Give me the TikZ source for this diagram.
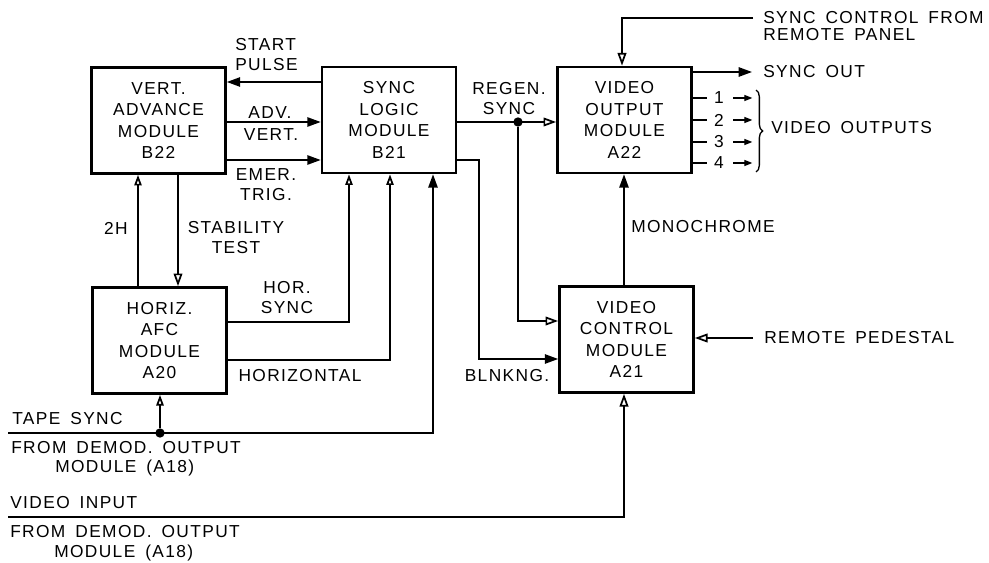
\documentclass[tikz,border=0pt]{standalone}
\usepackage{fontspec}
\setmainfont{Liberation Sans}[LetterSpace=8,WordSpace=1.6]
\usetikzlibrary{arrows.meta,decorations.pathreplacing}
\newcommand{\modschrift}{\fontsize{13}{16.2}\selectfont}
\newcommand{\lbl}{\fontsize{13}{15}\selectfont}
\tikzset{modul/.style={draw,line width=2pt,minimum width=100.5pt,minimum height=79.5pt,
    inner sep=0,align=center,font=\modschrift},
  leitung/.style={line width=1.3pt},
  pfeil/.style={leitung,-{Triangle[length=10pt,width=7pt]}},
  hohlpfeil/.style={leitung,-{Triangle[open,length=9.5pt,width=6.5pt]}},
  kleinhohl/.style={leitung,-{Triangle[open,length=8pt,width=5.5pt]}},
  kleinpfeil/.style={line width=0.9pt,-{Triangle[length=6pt,width=4.5pt]}},
  knoten/.style={circle,fill,inner sep=0,minimum size=7pt},
  beschr/.style={inner sep=0,font=\lbl}}
\begin{document}
\begin{tikzpicture}[x=0.75pt,y=-0.75pt]
\useasboundingbox (0,0) rectangle (989,563);
% Module
\node[modul] (b22) at (158.5,120.5) {VERT.\\ADVANCE\\MODULE\\B22};
\node[modul] (b21) at (389,120) {SYNC\\LOGIC\\MODULE\\B21};
\node[modul] (a22) at (624.5,120) {VIDEO\\OUTPUT\\MODULE\\A22};
\node[modul] (a20) at (159.5,340.5) {HORIZ.\\AFC\\MODULE\\A20};
\node[modul] (a21) at (626.5,339.5) {VIDEO\\CONTROL\\MODULE\\A21};
% freie Enden
\coordinate (tapein) at (8,433);
\coordinate (vidin) at (8,517);
\coordinate (syncctl) at (753,18);
\coordinate (syncout) at (752,72);
\coordinate (pedin) at (753,338);
% B22 <-> B21
\draw[pfeil] (b21.west |- 0,82) -- (b22.east |- 0,82);
\draw[pfeil] (b22.east |- 0,122) -- (b21.west |- 0,122);
\draw[pfeil] (b22.east |- 0,160) -- (b21.west |- 0,160);
\node[beschr,anchor=west,align=left] (lstart) at (235,55) {START\\PULSE};
\node[beschr] (ladv) at (270,113) {ADV.};
\node[beschr] (lvert) at (271,135) {VERT.};
\node[beschr,align=center] (lemer) at (266,185) {EMER.\\TRIG.};
% B22 <-> A20
\draw[kleinhohl] (a20.north -| 138,0) -- (b22.south -| 138,0);
\draw[hohlpfeil] (b22.south -| 178,0) -- (a20.north -| 178,0);
\node[beschr] (l2h) at (116,228) {2H};
\node[beschr,align=center] (lstab) at (236,238) {STABILITY\\TEST};
% A20 -> B21
\draw[kleinhohl] (a20.east |- 0,322) -| (b21.south -| 349,0);
\draw[kleinhohl] (a20.east |- 0,360) -| (b21.south -| 390,0);
\node[beschr,align=center] (lhor) at (287,297.5) {HOR.\\SYNC};
\node[beschr] (lhoriz) at (300,376) {HORIZONTAL};
% Tape sync
\draw[pfeil] (tapein) -| (b21.south -| 433,0);
\node[knoten] (knotA) at (160,433) {};
\draw[kleinhohl] (knotA) -- (a20.south -| knotA);
\node[beschr,anchor=west] (ltape) at (12,419) {TAPE SYNC};
\node[beschr,anchor=west] (lfrom1) at (11,448) {FROM DEMOD. OUTPUT};
\node[beschr,anchor=west] (lmod1) at (55,468) {MODULE (A18)};
% B21 -> A22, A21
\draw[hohlpfeil] (b21.east |- 0,122) -- (a22.west |- 0,122);
\node[knoten] (knotB) at (518,122) {};
\draw[hohlpfeil] (knotB) |- (a21.west |- 0,321);
\draw[pfeil] (b21.east |- 0,160) -- (479,160) |- (a21.west |- 0,359);
\node[beschr,align=center] (lregen) at (509,98.5) {REGEN.\\SYNC};
\node[beschr] (lblnk) at (507,376) {BLNKNG.};
% A21 -> A22
\draw[pfeil] (a21.north -| 624,0) -- (a22.south -| 624,0);
\node[beschr,anchor=west] (lmono) at (631,227) {MONOCHROME};
% rechts
\draw[hohlpfeil] (syncctl) -| (a22.north -| 622,0);
\node[beschr,anchor=west] (lsyncc1) at (763,18) {SYNC CONTROL FROM};
\node[beschr,anchor=west] (lsyncc2) at (763,35) {REMOTE PANEL};
\draw[pfeil] (a22.east |- syncout) -- (syncout);
\node[beschr,anchor=west] (lsyncout) at (763,72) {SYNC OUT};
\foreach \n/\y in {1/98,2/120,3/142,4/163}{
  \draw[leitung] (a22.east |- 0,\y) -- ++(14,0);
  \node[beschr] (nr\n) at (719,\y) {\n};
  \draw[kleinpfeil] ([xshift=10.5pt]nr\n.center) -- ([xshift=25pt]nr\n.center);
}
\draw[line width=1pt,decorate,decoration={brace,amplitude=5pt}] (756,90) -- (756,172);
\node[beschr,anchor=west] (lvidout) at (771,128) {VIDEO OUTPUTS};
\draw[hohlpfeil] (pedin) -- (a21.east |- pedin);
\node[beschr,anchor=west] (lped) at (764,338) {REMOTE PEDESTAL};
% Video input
\draw[hohlpfeil] (vidin) -| (a21.south -| 624,0);
\node[beschr,anchor=west] (lvidin) at (10,503) {VIDEO INPUT};
\node[beschr,anchor=west] (lfrom2) at (10,532) {FROM DEMOD. OUTPUT};
\node[beschr,anchor=west] (lmod2) at (54,553) {MODULE (A18)};
\end{tikzpicture}
\end{document}
